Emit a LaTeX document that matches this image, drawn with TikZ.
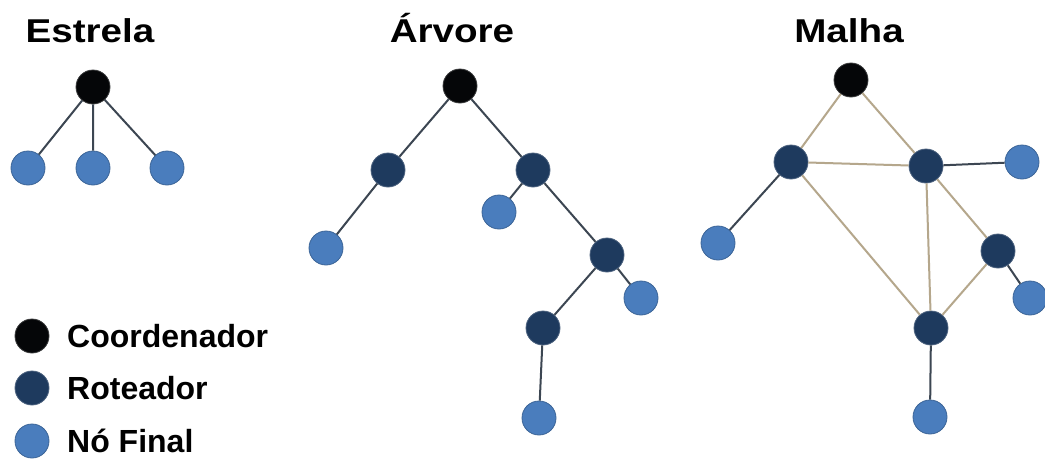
\documentclass[tikz,border=0pt]{standalone}
\usepackage{fontspec}
\setmainfont{Liberation Sans}
\definecolor{coordc}{HTML}{050608}
\definecolor{routc}{HTML}{1E3A5E}
\definecolor{leafc}{HTML}{4A7DBD}
\definecolor{edged}{HTML}{3C4652}
\definecolor{edget}{HTML}{B5A78C}
\newcommand{\wide}[1]{\scalebox{1.17}[1]{#1}}
\tikzset{
  base/.style={circle,inner sep=0pt,minimum size=34pt},
  coord/.style={base,fill=coordc,draw=coordc!80,line width=0.8pt},
  rout/.style={base,fill=routc,draw=routc!80,line width=0.8pt},
  leaf/.style={base,fill=leafc,draw=leafc!80!black,line width=0.8pt},
  ed/.style={draw=edged,line width=2pt},
  et/.style={draw=edget,line width=2pt},
  title/.style={font=\bfseries\fontsize{33}{36}\selectfont,inner sep=0pt,anchor=base},
  legtext/.style={font=\bfseries\fontsize{32}{35}\selectfont,inner sep=0pt,anchor=base west}
}
\begin{document}
\begin{tikzpicture}[x=1pt,y=-1pt]
\useasboundingbox[fill=white] (0,0) rectangle (1045,466);
% titles
\node[title] (t1) at (90,42) {\wide{Estrela}};
\node[title] (t2) at (452,42) {\wide{Árvore}};
\node[title] (t3) at (849,42) {\wide{Malha}};
% Estrela
\node[coord] (ec) at (93,87) {};
\node[leaf] (el1) at (28,168) {};
\node[leaf] (el2) at (93,168) {};
\node[leaf] (el3) at (167,168) {};
\draw[ed] (ec) -- (el1) (ec) -- (el2) (ec) -- (el3);
% Arvore
\node[coord] (ac) at (460,86) {};
\node[rout] (ar1) at (388,170) {};
\node[rout] (ar2) at (533,170) {};
\node[leaf] (al1) at (326,248) {};
\node[leaf] (al2) at (499,212) {};
\node[rout] (ar3) at (607,255) {};
\node[leaf] (al3) at (641,298) {};
\node[rout] (ar4) at (543,328) {};
\node[leaf] (al4) at (539,418) {};
\draw[ed] (ac) -- (ar1) (ac) -- (ar2) (ar1) -- (al1) (ar2) -- (al2)
  (ar2) -- (ar3) (ar3) -- (al3) (ar3) -- (ar4) (ar4) -- (al4);
% Malha
\node[coord] (mc) at (851,80) {};
\node[rout] (mr1) at (791,162) {};
\node[rout] (mr2) at (926,166) {};
\node[leaf] (ml1) at (1022,162) {};
\node[leaf] (ml2) at (718,243) {};
\node[rout] (mr3) at (998,251) {};
\node[leaf] (ml3) at (1030,298) {};
\node[rout] (mr4) at (931,328) {};
\node[leaf] (ml4) at (930,417) {};
\draw[et] (mc) -- (mr1) (mc) -- (mr2) (mr1) -- (mr2) (mr1) -- (mr4)
  (mr2) -- (mr4) (mr2) -- (mr3) (mr3) -- (mr4);
\draw[ed] (mr1) -- (ml2) (mr2) -- (ml1) (mr3) -- (ml3) (mr4) -- (ml4);
% legend
\node[coord] (lc) at (32,336) {};
\node[rout] (lr) at (32,388) {};
\node[leaf] (ll) at (32,441) {};
\node[legtext] (lt1) at (67,347) {Coordenador};
\node[legtext] (lt2) at (67,399) {Roteador};
\node[legtext] (lt3) at (67,452) {Nó Final};
\end{tikzpicture}
\end{document}
